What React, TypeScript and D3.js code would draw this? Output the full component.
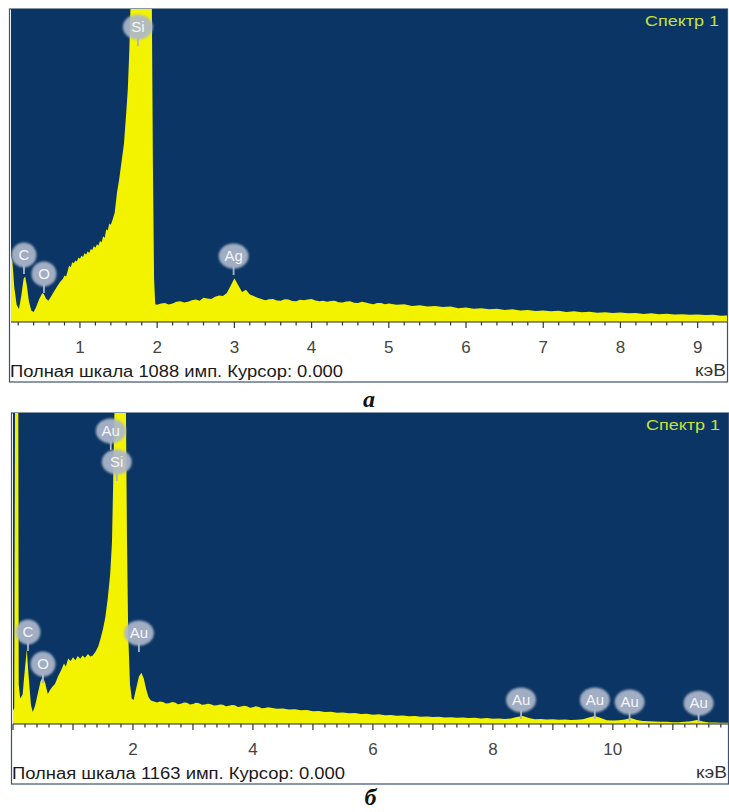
import React from "react";
import * as d3 from "d3";

// ---------- Data ----------
// Panel а: energy (keV), counts
const spectrumA: [number, number][] = [
  [0.107, 230], [0.125, 210], [0.15, 120], [0.18, 60], [0.21, 45], [0.24, 90], [0.27, 150], [0.29, 158],
  [0.31, 130], [0.34, 70], [0.37, 40], [0.40, 35], [0.43, 50], [0.47, 78], [0.51, 100], [0.53, 98],
  [0.56, 82], [0.59, 74], [0.62, 86], [0.66, 104], [0.70, 122], [0.74, 138], [0.78, 150], [0.80, 162],
  [0.82, 158], [0.84, 176], [0.86, 196], [0.88, 190], [0.90, 208], [0.92, 204], [0.94, 214], [0.96, 210],
  [0.98, 224], [1.00, 220], [1.02, 230], [1.04, 226], [1.06, 240], [1.08, 234], [1.10, 246], [1.12, 240],
  [1.14, 254], [1.16, 250], [1.18, 264], [1.20, 258], [1.22, 270], [1.24, 266], [1.26, 282], [1.28, 276],
  [1.30, 298], [1.32, 292], [1.34, 322], [1.36, 318], [1.38, 342], [1.40, 338], [1.42, 354], [1.45, 380],
  [1.48, 450], [1.51, 500], [1.54, 560], [1.57, 620], [1.60, 730], [1.62, 810], [1.64, 950], [1.655, 1100],
  [1.68, 1500], [1.72, 2300], [1.75, 2600], [1.80, 2400], [1.86, 1800], [1.92, 1300], [1.93, 1150],
  [1.945, 540], [1.96, 150], [1.975, 62],
  [2.0, 60], [2.05, 64], [2.1, 66], [2.15, 61], [2.2, 64], [2.25, 70], [2.3, 72], [2.35, 68], [2.4, 70],
  [2.45, 76], [2.5, 78], [2.55, 74], [2.6, 84], [2.65, 82], [2.7, 80], [2.75, 88], [2.8, 92], [2.85, 90],
  [2.9, 100], [2.95, 125], [3.0, 152], [3.05, 128], [3.1, 104], [3.15, 112], [3.2, 96], [3.25, 90], [3.3, 84],
  [3.35, 80], [3.4, 76], [3.45, 79], [3.5, 80], [3.55, 75], [3.6, 74], [3.65, 79], [3.7, 78], [3.75, 73],
  [3.8, 72], [3.85, 77], [3.9, 76], [3.95, 78], [4.0, 80], [4.05, 75], [4.1, 72], [4.15, 74], [4.2, 70],
  [4.25, 73], [4.3, 74], [4.35, 69], [4.4, 68], [4.45, 71], [4.5, 72], [4.55, 67], [4.6, 66], [4.65, 70],
  [4.7, 68], [4.75, 64], [4.8, 62], [4.85, 66], [4.9, 66], [4.95, 62], [5.0, 64], [5.1, 60],
  [5.2, 62], [5.3, 56], [5.4, 58], [5.5, 54], [5.6, 56], [5.7, 52], [5.8, 54], [5.9, 48], [6.0, 50],
  [6.1, 46], [6.2, 48], [6.3, 44], [6.4, 46], [6.5, 42], [6.6, 44], [6.7, 40], [6.8, 42], [6.9, 38],
  [7.0, 40], [7.1, 37], [7.2, 39], [7.3, 35], [7.4, 37], [7.5, 34], [7.6, 36], [7.7, 32], [7.8, 34],
  [7.9, 31], [8.0, 33], [8.1, 30], [8.2, 31], [8.3, 28], [8.4, 30], [8.5, 27], [8.6, 29], [8.7, 26],
  [8.8, 27], [8.9, 25], [9.0, 26], [9.1, 24], [9.2, 25], [9.3, 22], [9.38, 23],
];

// Panel б
const spectrumB: [number, number][] = [
  [0.0, 50], [0.02, 60], [0.04, 1700], [0.085, 1700], [0.095, 150], [0.12, 95], [0.16, 110], [0.2, 210],
  [0.23, 280], [0.26, 180], [0.3, 70], [0.33, 45], [0.37, 70], [0.41, 110], [0.46, 160], [0.5, 178],
  [0.54, 150], [0.58, 112], [0.62, 128], [0.66, 140], [0.7, 150], [0.75, 178], [0.8, 200], [0.85, 226],
  [0.88, 215], [0.92, 245], [0.96, 236], [1.0, 250], [1.04, 238], [1.08, 254], [1.12, 244], [1.16, 256],
  [1.2, 248], [1.25, 262], [1.29, 252], [1.33, 256], [1.38, 272], [1.42, 290], [1.46, 320], [1.5, 355],
  [1.54, 400], [1.58, 470], [1.62, 560], [1.65, 680], [1.67, 900], [1.69, 1150], [1.72, 1800],
  [1.76, 2500], [1.82, 2300], [1.86, 1700], [1.88, 1250], [1.9, 700], [1.92, 340], [1.95, 150],
  [1.98, 95], [2.01, 90], [2.05, 130], [2.1, 178], [2.14, 192], [2.18, 170], [2.22, 130], [2.26, 100],
  [2.3, 88], [2.35, 84], [2.4, 80], [2.45, 84],
  [2.5, 82], [2.55, 77], [2.6, 78], [2.65, 82], [2.7, 80], [2.75, 74], [2.8, 76], [2.85, 80], [2.9, 79],
  [2.95, 73], [3.0, 75], [3.05, 79], [3.1, 78], [3.15, 72], [3.2, 73], [3.25, 76], [3.3, 74],
  [3.35, 69], [3.4, 70], [3.45, 73], [3.5, 72], [3.55, 66], [3.6, 68], [3.65, 71], [3.7, 70], [3.75, 64],
  [3.8, 65], [3.85, 68], [3.9, 66], [3.95, 61], [4.0, 63], [4.05, 66], [4.1, 64], [4.15, 59], [4.2, 60],
  [4.25, 63], [4.3, 61], [4.4, 57], [4.5, 58], [4.6, 54], [4.7, 55], [4.8, 51], [4.9, 52], [5.0, 48], [5.1, 49],
  [5.2, 45], [5.3, 46], [5.4, 42], [5.5, 43], [5.6, 40], [5.7, 41], [5.8, 37], [5.9, 38], [6.0, 35],
  [6.1, 36], [6.2, 33], [6.3, 34], [6.4, 31], [6.5, 32], [6.6, 29], [6.7, 30], [6.8, 27], [6.9, 28],
  [7.0, 26], [7.1, 27], [7.2, 24], [7.3, 25], [7.4, 23], [7.5, 24], [7.6, 22], [7.7, 23], [7.8, 21],
  [7.9, 22], [8.0, 20], [8.1, 21], [8.2, 19], [8.3, 21], [8.4, 26], [8.5, 30], [8.6, 22], [8.7, 18],
  [8.8, 19], [8.9, 17], [9.0, 18], [9.1, 16], [9.2, 17], [9.3, 15], [9.4, 16], [9.5, 18], [9.6, 24],
  [9.7, 30], [9.8, 22], [9.9, 14], [10.0, 13], [10.1, 14], [10.2, 17], [10.3, 22], [10.4, 15],
  [10.5, 11], [10.6, 10], [10.7, 9], [10.8, 8], [10.9, 8], [11.0, 7], [11.1, 7], [11.2, 8], [11.3, 10],
  [11.4, 15], [11.5, 9], [11.6, 6], [11.7, 6], [11.8, 5], [11.92, 5],
];

// Element labels: [element, keV of label centre, counts at label centre]
const labelsA: [string, number, number][] = [
  ["Si", 1.75, 1025], ["C", 0.275, 233], ["O", 0.534, 167], ["Ag", 2.99, 229],
];
const labelsB: [string, number, number][] = [
  ["Au", 1.63, 1096], ["Si", 1.73, 980], ["C", 0.25, 344], ["O", 0.5, 224], ["Au", 2.1, 340],
  ["Au", 8.47, 90], ["Au", 9.7, 90], ["Au", 10.28, 82], ["Au", 11.43, 78],
];

const ticksLabelA = [1, 2, 3, 4, 5, 6, 7, 8, 9];
const ticksLabelB = [2, 4, 6, 8, 10];
const fullScaleA = 1088;
const fullScaleB = 1163;
const spectrumTitle = "Спектр 1";
const unitLabel = "кэВ";
const captionA = "а";
const captionB = "б";

const NAVY = "#0a3565";
const YELLOW = "#f3f300";
const FONT = "'Liberation Sans', Arial, sans-serif";

type PanelProps = {
  data: [number, number][];
  labels: [string, number, number][];
  xDomain: [number, number];
  fullScale: number;
  left: number;
  right: number;
  top: number;
  bottom: number;
  frameBottom: number;
  tickLabels: number[];
  caption: string;
  captionY: number;
  id: string;
};

function Panel(p: PanelProps) {
  const x = d3.scaleLinear().domain(p.xDomain).range([p.left, p.right]);
  const y = d3.scaleLinear().domain([0, p.fullScale]).range([p.bottom, p.top]);
  const area = d3
    .area<[number, number]>()
    .x((d) => x(d[0]))
    .y0(y(0))
    .y1((d) => y(d[1]));
  const minor = d3.range(Math.ceil(p.xDomain[0] * 5), Math.floor(p.xDomain[1] * 5) + 1).map((i) => i / 5);
  const clipId = "clip-" + p.id;
  return (
    <g>
      <defs>
        <clipPath id={clipId}>
          <rect x={p.left} y={p.top} width={p.right - p.left} height={p.bottom - p.top} />
        </clipPath>
      </defs>
      <rect x={p.left - 1.5} y={p.top} width={p.right - p.left + 2} height={p.frameBottom - p.top} fill="#fff" stroke="#3b5370" strokeWidth={1.2} />
      <rect x={p.left} y={p.top} width={p.right - p.left} height={p.bottom - p.top} fill={NAVY} />
      <path d={area(p.data) || ""} fill={YELLOW} clipPath={`url(#${clipId})`} />
      <line x1={p.left} x2={p.right} y1={p.bottom} y2={p.bottom} stroke="#2b2b10" strokeWidth={1.2} />
      {minor.map((t) => {
        const major = Math.abs(t - Math.round(t)) < 1e-6;
        return (
          <line key={t} x1={x(t)} x2={x(t)} y1={p.bottom} y2={p.bottom + (major ? 6 : 3.5)} stroke="#333" strokeWidth={1.2} />
        );
      })}
      {p.tickLabels.map((t) => (
        <text key={t} x={x(t)} y={p.bottom + 31} textAnchor="middle" fontFamily={FONT} fontSize={17} fill="#444">
          {t}
        </text>
      ))}
      <text x={p.left - 1} y={p.frameBottom - 5} fontFamily={FONT} fontSize={16} fill="#1a1a1a" textLength={333} lengthAdjust="spacingAndGlyphs">
        {`Полная шкала ${p.fullScale} имп. Курсор: 0.000`}
      </text>
      <text x={p.right - 1} y={p.frameBottom - 6} textAnchor="end" fontFamily={FONT} fontSize={16} fill="#333" textLength={31} lengthAdjust="spacingAndGlyphs">
        {unitLabel}
      </text>
      <text x={p.right - 8} y={p.top + 17} textAnchor="end" fontFamily={FONT} fontSize={15} fill="#c9e23a" textLength={74} lengthAdjust="spacingAndGlyphs">
        {spectrumTitle}
      </text>
      {p.labels.map(([el, e, c], i) => {
        const cx = x(e);
        const cy = y(c);
        const rx = el.length > 1 ? 15 : 12.5;
        return (
          <g key={i}>
            <line x1={cx} x2={cx} y1={cy + 10} y2={cy + 19} stroke="#aab4c6" strokeWidth={1.8} />
            <ellipse cx={cx} cy={cy} rx={rx} ry={12.5} fill="#aeb8ca" opacity={0.92} filter="url(#fuzz)" />
            <text x={cx} y={cy + 5} textAnchor="middle" fontFamily={FONT} fontSize={15} fill="#f4f6fa">
              {el}
            </text>
          </g>
        );
      })}
      <text x={(p.left + p.right) / 2} y={p.captionY} textAnchor="middle" fontFamily="'Liberation Serif', 'DejaVu Serif', serif" fontStyle="italic" fontWeight="bold" fontSize={24} fill="#111">
        {p.caption}
      </text>
    </g>
  );
}

export default function App() {
  return (
    <svg width={729} height={812} style={{ position: "absolute", left: 0, top: 0, background: "#fff" }}>
      <defs>
        <filter id="fuzz" x="-30%" y="-30%" width="160%" height="160%">
          <feGaussianBlur stdDeviation={0.9} />
        </filter>
      </defs>
      <Panel
        id="a"
        data={spectrumA}
        labels={labelsA}
        xDomain={[0.107, 9.38]}
        fullScale={fullScaleA}
        left={11}
        right={727}
        top={9}
        bottom={322}
        frameBottom={382}
        tickLabels={ticksLabelA}
        caption={captionA}
        captionY={407}
      />
      <Panel
        id="b"
        data={spectrumB}
        labels={labelsB}
        xDomain={[0, 11.92]}
        fullScale={fullScaleB}
        left={13}
        right={728}
        top={413}
        bottom={724}
        frameBottom={784}
        tickLabels={ticksLabelB}
        caption={captionB}
        captionY={805}
      />
    </svg>
  );
}
